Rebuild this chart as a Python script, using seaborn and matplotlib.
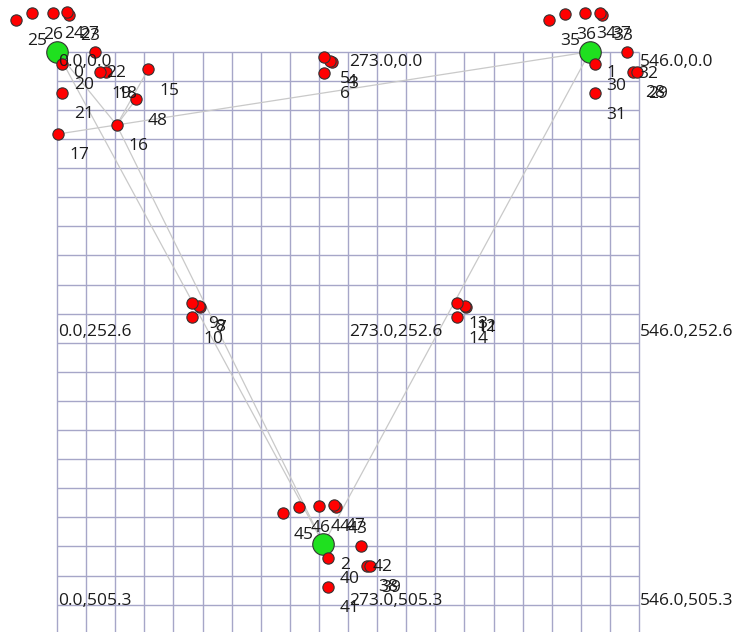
import numpy as np
import pandas as pd
import matplotlib
matplotlib.use("Agg")
import matplotlib.pyplot as plt
import seaborn as sns

# Field extent and grid
field_w = 546.0
field_h = 505.3
grid_steps = 20

# Node coordinates (field units, y grows downward)
node_id = list(range(49))
node_x = [0.0, 500.0, 250.0, 258.3, 256.5, 250.5, 250.5, 134.1, 132.8, 126.3,
          126.3, 383.7, 382.4, 375.5, 375.5, 85.6, 56.0, 1.2, 45.7, 40.3,
          5.0, 5.0, 35.6, 11.5, -4.0, -38.5, -23.2, 9.7, 540.7, 543.8,
          504.7, 504.7, 535.0, 511.0, 495.6, 461.8, 476.5, 509.4, 290.5, 293.6,
          254.5, 254.5, 285.2, 261.7, 245.8, 211.7, 227.0, 259.8, 74.1]
node_y = [0.0, 0.0, 462.0, 9.9, 8.8, 5.3, 19.7, 239.2, 238.3, 235.5,
          249.2, 239.2, 238.3, 235.5, 249.2, 16.5, 68.8, 77.2, 19.3, 19.3,
          11.5, 38.5, 0.0, -34.4, -36.6, -29.7, -36.0, -37.0, 18.8, 19.3,
          11.8, 39.0, 0.6, -34.4, -36.6, -29.7, -35.4, -36.6, 482.2, 482.7,
          474.7, 501.9, 463.4, 427.4, 425.9, 433.0, 426.8, 425.2, 44.7]
hub_ids = [0, 1, 2]

edges = [(0, 2), (0, 16), (16, 2), (1, 2), (17, 1), (16, 15), (16, 48)]

# Reference coordinates printed on the field
ref_x = [0.0, 273.0, 546.0]
ref_y = [0.0, 252.6, 505.3]

sns.set_theme(style="white")
plt.rcParams["font.family"] = ["Open Sans", "DejaVu Sans"]

df = pd.DataFrame({"id": node_id, "x": node_x, "y": node_y})
df["kind"] = np.where(df["id"].isin(hub_ids), "hub", "node")

fig = plt.figure(figsize=(7.35, 6.32), dpi=100)
fig.patch.set_facecolor("white")
ax = fig.add_axes([0, 0, 1, 1])

# Square grid over the field
ticks = np.arange(grid_steps + 1) * field_w / grid_steps
grid_color = "#a6a6c8"
ax.vlines(ticks, 0, ticks[-1], color=grid_color, lw=1.0, zorder=1)
ax.hlines(ticks, 0, ticks[-1], color=grid_color, lw=1.0, zorder=1)

# Links between nodes
for a, b in edges:
    ax.plot([node_x[a], node_x[b]], [node_y[a], node_y[b]],
            color="#c9c9c9", lw=0.9, zorder=2)

# Hubs first, ordinary nodes on top
sns.scatterplot(data=df[df["kind"] == "hub"], x="x", y="y", s=240,
                color="#1fe01f", edgecolor="#333333", linewidth=0.8,
                ax=ax, zorder=3, legend=False)
sns.scatterplot(data=df[df["kind"] == "node"], x="x", y="y", s=66,
                color="#ff0000", edgecolor="#333333", linewidth=0.8,
                ax=ax, zorder=4, legend=False)

label_size = 12.5
text_color = "#1c1c1c"

# Node ids, offset down-right of each node
for i, x, y in zip(node_id, node_x, node_y):
    ax.text(x + 20, y + 20, str(i), ha="center", va="center",
            fontsize=label_size, color=text_color, zorder=5)

# Coordinate captions
for yv in ref_y:
    for xv in ref_x:
        ax.text(xv + 1, yv + 10, f"{xv:.1f},{yv:.1f}", ha="left", va="center",
                fontsize=label_size, color=text_color, zorder=5)

scale = 582.0 / field_w
ax.set_xlim(-57.0 / scale, (735 - 57.0) / scale)
ax.set_ylim((632 - 51.7) / scale, -51.7 / scale)
ax.axis("off")

fig.savefig("out.png", dpi=100, facecolor="white")
